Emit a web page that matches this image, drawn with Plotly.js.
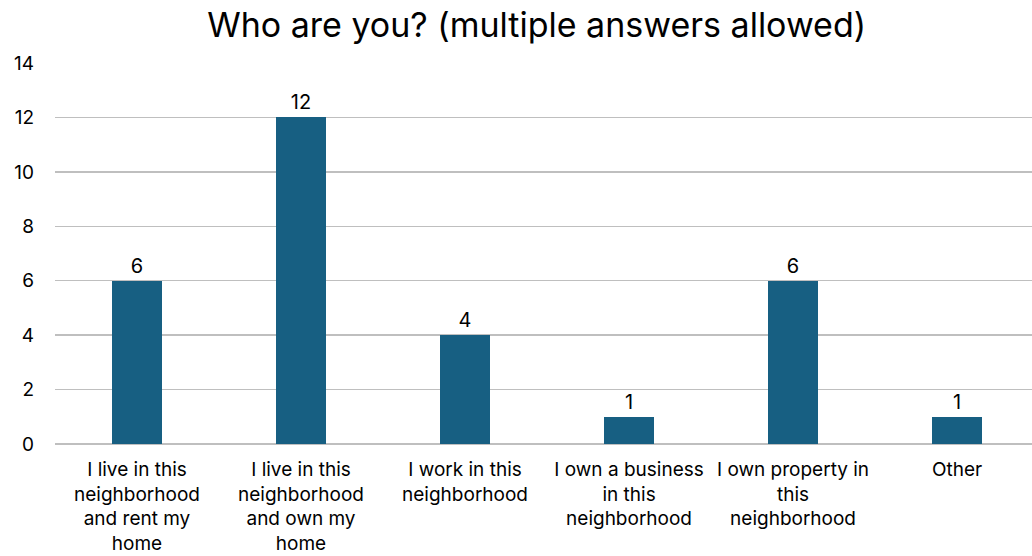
<!DOCTYPE html>
<html><head><meta charset="utf-8">
<script src="https://cdn.plot.ly/plotly-3.0.1.min.js"></script>
<style>html,body{margin:0;padding:0;background:#fff}#c{width:1032px;height:556px}</style>
</head><body><div id="c"></div>
<script>
const categories = [
  "I live in this<br>neighborhood<br>and rent my<br>home",
  "I live in this<br>neighborhood<br>and own my<br>home",
  "I work in this<br>neighborhood",
  "I own a business<br>in this<br>neighborhood",
  "I own property in<br>this<br>neighborhood",
  "Other"
];
const values = [6, 12, 4, 1, 6, 1];
const yTicks = [0, 2, 4, 6, 8, 10, 12, 14];

const font = "Inter, 'Open Sans', sans-serif";
Plotly.newPlot('c', [{
  type: 'bar',
  x: categories.map((c,i)=>i),
  y: values,
  width: 0.31,
  marker: {color: '#175F82'},
  text: values.map(String),
  textposition: 'outside',
  cliponaxis: false,
  textfont: {family: font, size: 20, color: '#000'},
  hoverinfo: 'skip'
}], {
  width: 1032, height: 556,
  margin: {l: 55, r: 0, t: 63, b: 112},
  paper_bgcolor: '#fff', plot_bgcolor: '#fff',
  showlegend: false,
  title: {text: 'Who are you? (multiple answers allowed)', font: {family: font, size: 34, color: '#000'},
          x: 0.52, xref: 'container', xanchor: 'center', y: 0.955, yref: 'container', yanchor: 'middle'},
  xaxis: {
    range: [-0.5, 5.457],
    tickmode: 'array', tickvals: categories.map((c,i)=>i), ticktext: categories,
    tickfont: {family: font, size: 19, color: '#000'},
    showgrid: false, zeroline: false, showline: false, ticks: '', ticklabelstandoff: 12, fixedrange: true
  },
  yaxis: {
    range: [0, 14], tickmode: 'array', tickvals: yTicks,
    tickfont: {family: font, size: 19, color: '#000'},
    showgrid: true, gridcolor: '#BFBFBF', gridwidth: 1.3,
    zeroline: true, zerolinecolor: '#BFBFBF', zerolinewidth: 1.5,
    showline: false, ticks: '', ticklabelstandoff: 20, fixedrange: true
  },
  bargap: 0
}, {displayModeBar: false, staticPlot: true});
</script></body></html>
